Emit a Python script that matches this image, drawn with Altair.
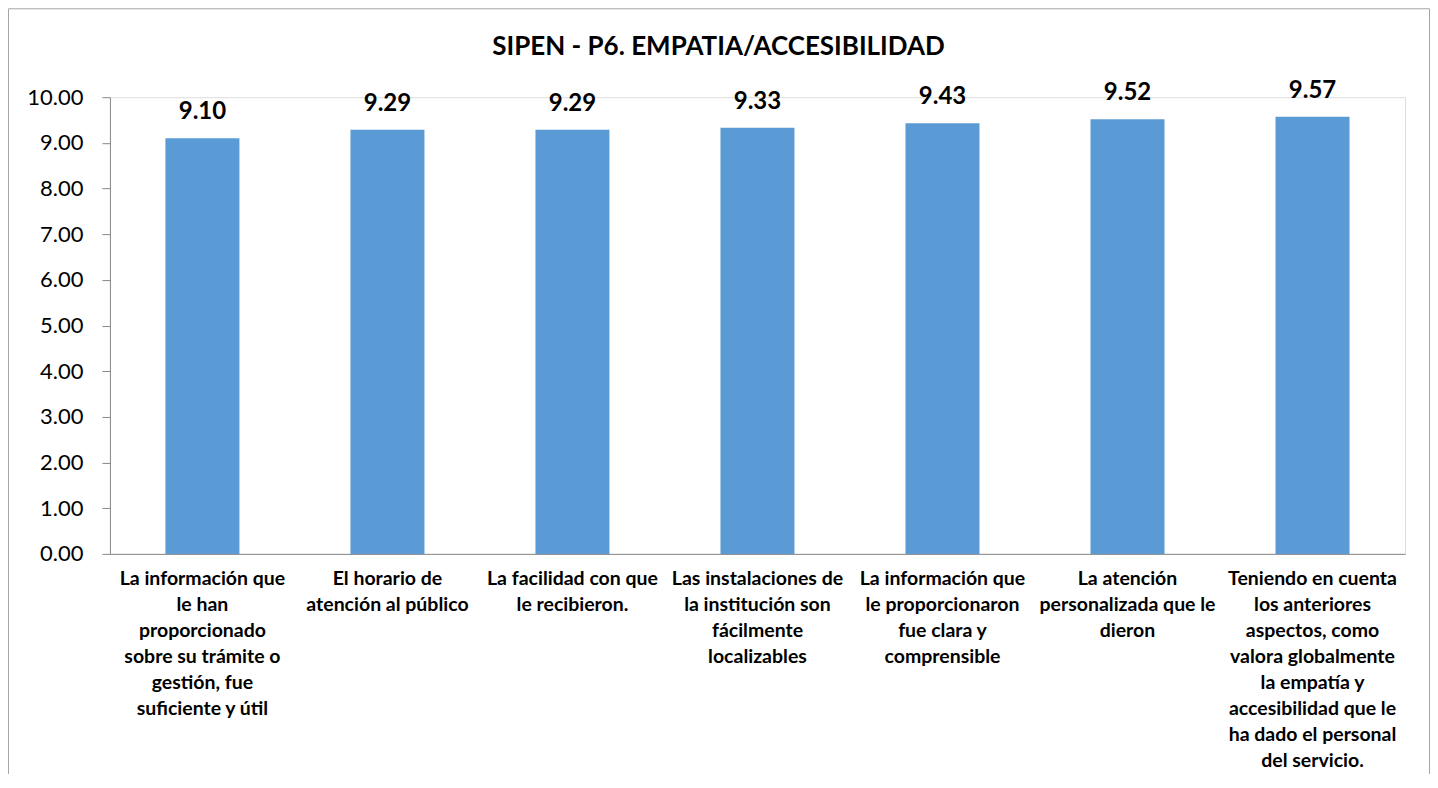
import altair as alt
import pandas as pd

categories = [
    "La información que\nle han\nproporcionado\nsobre su trámite  o\ngestión, fue\nsuficiente y útil",
    "El horario de\natención al público",
    "La facilidad con que\nle recibieron.",
    "Las instalaciones de\nla institución son\nfácilmente\nlocalizables",
    "La información que\nle proporcionaron\nfue clara y\ncomprensible",
    "La atención\npersonalizada que le\ndieron",
    "Teniendo en cuenta\nlos anteriores\naspectos, como\nvalora globalmente\nla empatía y\naccesibilidad que le\nha dado el personal\ndel servicio.",
]
values = [9.10, 9.29, 9.29, 9.33, 9.43, 9.52, 9.57]
y_ticks = [0, 1, 2, 3, 4, 5, 6, 7, 8, 9, 10]
chart_title = "SIPEN - P6. EMPATIA/ACCESIBILIDAD"

df = pd.DataFrame({"cat": categories, "val": values})

W, H = 1296, 457
FONT = "Lato"
GRAY = "#898989"

x_enc = alt.X(
    "cat:N",
    sort=None,
    scale=alt.Scale(paddingInner=0.6, paddingOuter=0.3),
    axis=alt.Axis(
        title=None,
        labelAngle=0,
        labelExpr="split(datum.label, '\\n')",
        ticks=False,
        labelFont=FONT,
        labelFontSize=19.5,
        labelFontWeight="bold",
        labelLineHeight=26,
        labelBaseline="top",
        labelPadding=16,
        labelLimit=260,
        labelColor="black",
        domainColor=GRAY,
    ),
)
y_enc = alt.Y(
    "val:Q",
    scale=alt.Scale(domain=[0, 10], nice=False, zero=True),
    axis=alt.Axis(
        values=y_ticks,
        format=".2f",
        grid=False,
        title=None,
        tickSize=8,
        tickColor=GRAY,
        domainColor=GRAY,
        labelFont=FONT,
        labelFontSize=22,
        labelPadding=19,
        labelColor="black",
    ),
)

base = alt.Chart(df)
bars = base.mark_bar(color="#5B9BD5").encode(x=x_enc, y=y_enc)
labels = base.mark_text(
    font=FONT, fontSize=24, fontWeight="bold", baseline="alphabetic", dy=-19, color="black"
).encode(x=x_enc, y=y_enc, text=alt.Text("val:Q", format=".2f"))

frame = alt.Chart(pd.DataFrame({"f": [0]})).mark_rect(
    filled=False, stroke="#A6A6A6", strokeWidth=1
).encode(
    x=alt.value(-101.5), x2=alt.value(1320.5), y=alt.value(-88.5), y2=alt.value(700)
)

chart = (
    alt.layer(frame, bars, labels)
    .properties(
        width=W,
        height=H,
        autosize=alt.AutoSizeParams(type="none"),
        padding={"left": 102, "top": 89, "right": 25, "bottom": 220},
        title=alt.TitleParams(
            chart_title,
            font=FONT,
            fontSize=26,
            fontWeight="bold",
            color="black",
            anchor="middle",
            frame="group",
            baseline="bottom",
            dx=-39,
            offset=-78,
        ),
    )
    .configure_view(stroke=None)
    .configure(background="white")
)

chart.save("out.html", embed_options={"renderer": "svg", "actions": False})
